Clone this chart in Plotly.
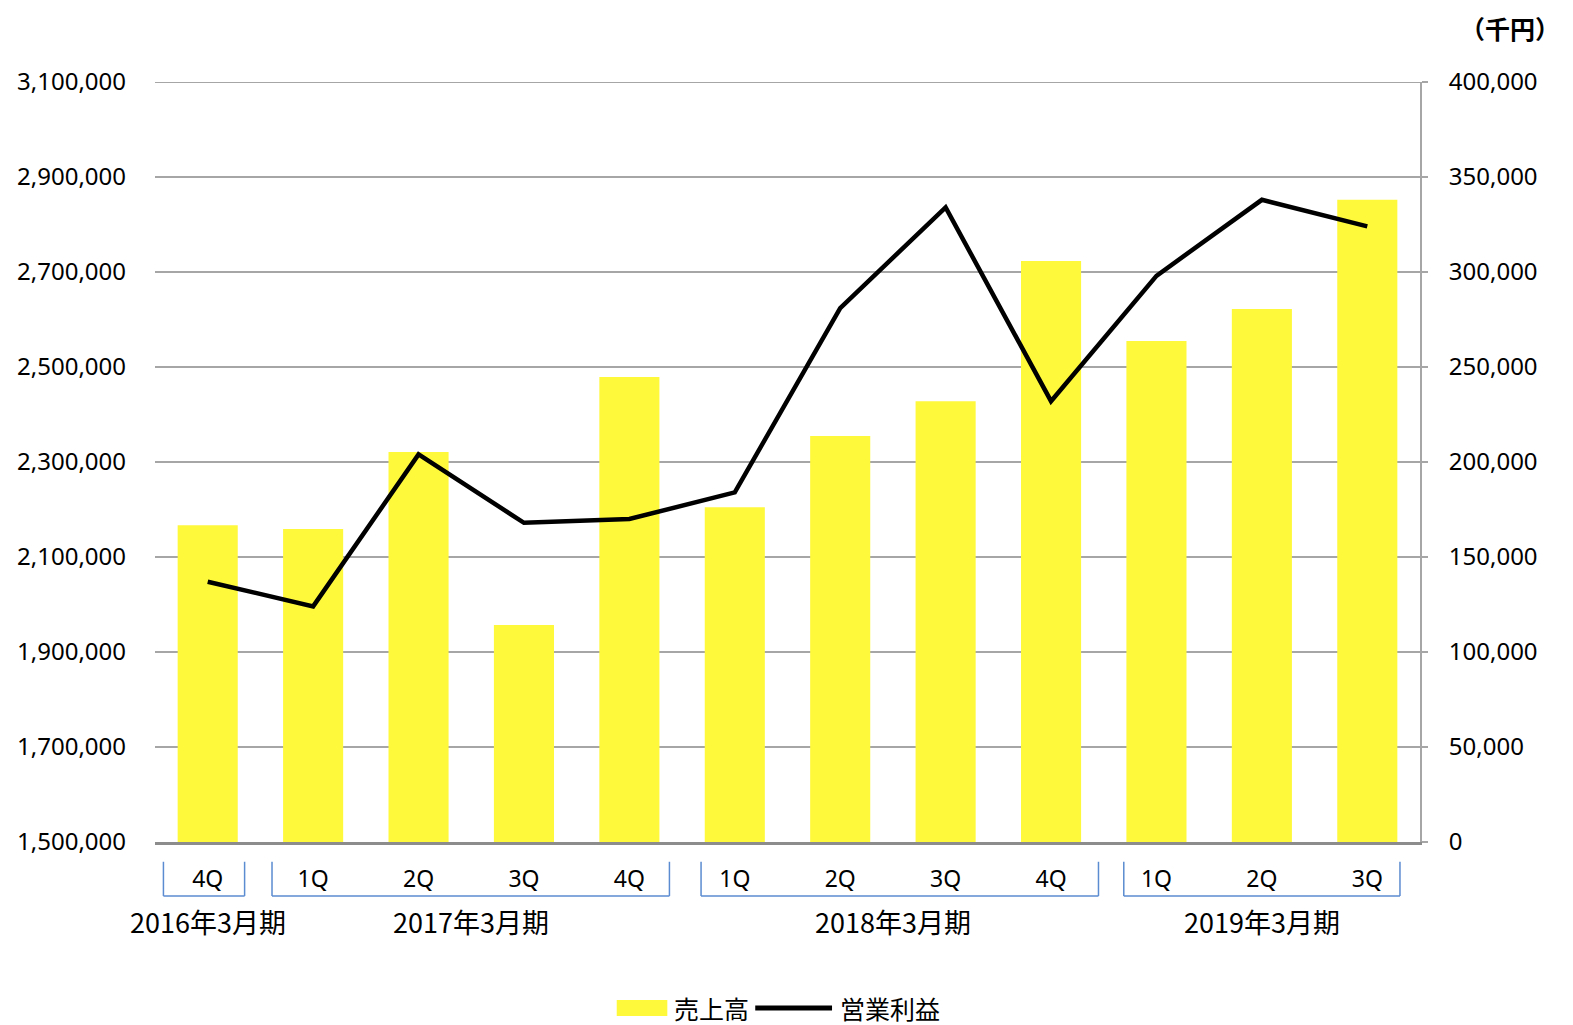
"""売上高 / 営業利益 四半期推移 — bar + line, two y axes, grouped quarter labels."""

import plotly.graph_objects as go

# data
quarters = ["4Q", "1Q", "2Q", "3Q", "4Q", "1Q", "2Q", "3Q", "4Q", "1Q", "2Q", "3Q"]
sales = [2167000, 2159000, 2321000, 1957000, 2479000, 2205000,
         2355000, 2428000, 2723000, 2555000, 2622000, 2852000]
op_profit = [137000, 124000, 204000, 168000, 170000, 184000,
             281000, 334000, 232000, 298000, 338000, 324000]
periods = ["2016年3月期", "2017年3月期", "2018年3月期", "2019年3月期"]
period_ranges = [(0, 0), (1, 4), (5, 8), (9, 11)]  # first/last quarter index

left_ticks = list(range(1500000, 3100001, 200000))
right_ticks = list(range(0, 400001, 50000))

FONT = "Noto Sans, Noto Sans CJK JP, sans-serif"
JP_FONT = "Noto Sans CJK JP, sans-serif"
GRID = "#a6a6a6"
BRACKET = "#5b8bd0"
BAR_COLOR = "#fff93c"

x = list(range(len(quarters)))

fig = go.Figure()
fig.add_trace(go.Bar(
    x=x, y=sales, name="売上高",
    marker=dict(color=BAR_COLOR, line_width=0),
    width=0.57, showlegend=False,
))
fig.add_trace(go.Scatter(
    x=x, y=op_profit, name="営業利益", yaxis="y2",
    mode="lines", line=dict(color="black", width=4.5), showlegend=False,
))

# top gridline (range edge)
fig.add_shape(type="line", xref="paper", yref="y", x0=0, x1=1.004,
              y0=left_ticks[-1], y1=left_ticks[-1], line=dict(color=GRID, width=2))

# bracket edges around each fiscal-year group (offsets from first/last bar)
bracket_pad = [(-0.42, 0.35), (-0.39, 0.38), (-0.32, 0.45), (-0.31, 0.31)]
y_top, y_bot = -0.026, -0.071
for (a, b), (pl, pr), label in zip(period_ranges, bracket_pad, periods):
    x0, x1 = a + pl, b + pr
    for xs in (x0, x1):
        fig.add_shape(type="line", xref="x", yref="paper", x0=xs, x1=xs, y0=y_top, y1=y_bot,
                      line=dict(color=BRACKET, width=1.5))
    fig.add_shape(type="line", xref="x", yref="paper", x0=x0, x1=x1, y0=y_bot, y1=y_bot,
                  line=dict(color=BRACKET, width=1.5))
    fig.add_annotation(x=(a + b) / 2, y=-0.105, xref="x", yref="paper",
                       text=label, showarrow=False, yanchor="middle",
                       font=dict(family=JP_FONT, size=27, color="black"))

fig.add_annotation(x=1.071, y=1.071, xref="paper", yref="paper", xanchor="center",
                   yanchor="middle", text="<b>（千円）</b>", showarrow=False,
                   font=dict(family=JP_FONT, size=25, color="black"))

# manual legend (wide swatches like the reference)
leg_y = -0.2184
fig.add_shape(type="rect", xref="paper", yref="paper", x0=0.365, x1=0.405,
              y0=-0.208, y1=-0.229, fillcolor=BAR_COLOR, line_width=0)
fig.add_annotation(x=0.4087, y=leg_y, xref="paper", yref="paper", xanchor="left",
                   yanchor="middle", text="売上高", showarrow=False,
                   font=dict(family=JP_FONT, size=25, color="black"))
fig.add_shape(type="line", xref="paper", yref="paper", x0=0.4745, x1=0.5352,
              y0=leg_y, y1=leg_y, line=dict(color="black", width=5))
fig.add_annotation(x=0.540, y=leg_y, xref="paper", yref="paper", xanchor="left",
                   yanchor="middle", text="営業利益", showarrow=False,
                   font=dict(family=JP_FONT, size=25, color="black"))

# page body has an 8px margin, so the figure is sized/offset to land on the same pixels
fig.update_layout(
    width=1565, height=1017,
    margin=dict(l=147, r=153, t=74, b=183, autoexpand=False),
    paper_bgcolor="white", plot_bgcolor="white",
    font=dict(family=FONT, size=23, color="black"),
    showlegend=False,
    xaxis=dict(
        range=[-0.5, 11.5], tickvals=x, ticktext=quarters,
        showgrid=False, zeroline=False,
        showline=True, linecolor="#8c8c8c", linewidth=3,
        ticks="", ticklabelstandoff=14, automargin=False,
        tickfont=dict(family=FONT, size=23),
    ),
    yaxis=dict(
        range=[1500000, 3100000], tickvals=left_ticks,
        tickformat=",d", showgrid=True, gridcolor=GRID, gridwidth=2,
        zeroline=False, showline=False, ticks="", ticklabelstandoff=28,
        automargin=False, tickfont=dict(size=24),
    ),
    yaxis2=dict(
        range=[0, 400000], tickvals=right_ticks, tickformat=",d",
        overlaying="y", side="right", showgrid=False, zeroline=False,
        showline=True, linecolor=GRID, linewidth=2,
        ticks="outside", ticklen=6, tickcolor=GRID, tickwidth=2,
        ticklabelstandoff=16, automargin=False, tickfont=dict(size=24),
    ),
)

fig.write_html("out.html")
